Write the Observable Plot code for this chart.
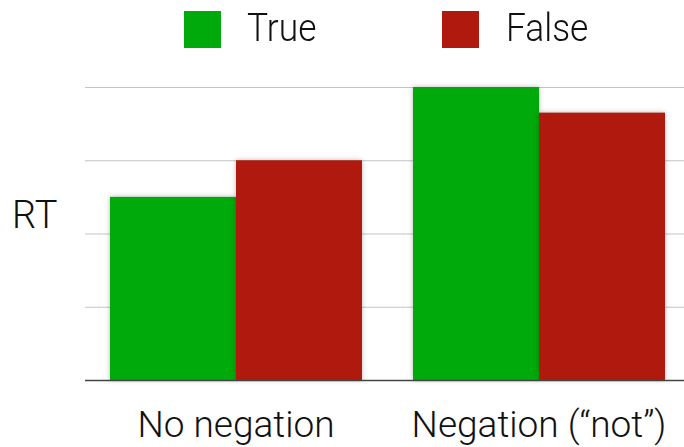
<!DOCTYPE html>
<html>
<head>
<meta charset="utf-8">
<script src="https://cdn.jsdelivr.net/npm/d3@7"></script>
<script src="https://cdn.jsdelivr.net/npm/@observablehq/plot@0.6"></script>
<style>
  html, body { margin: 0; padding: 0; background: #fff; }
  #wrap { position: relative; width: 684px; height: 447px; font-family: Roboto, "Liberation Sans", Arial, sans-serif; font-weight: 300; color: #111; overflow: hidden; }
  #wrap svg { position: absolute; left: 0; top: 0; }
  #legend { position: absolute; left: 0; top: 0; width: 684px; height: 60px; }
  .sw { position: absolute; top: 11px; width: 37px; height: 37px; }
  .lt { position: absolute; top: 6px; font-size: 38px; line-height: 44px; transform-origin: 0 0; transform: scaleX(0.93); white-space: nowrap; }
  #ylab { position: absolute; left: 12px; top: 193px; font-size: 38px; line-height: 44px; }
  svg g[aria-label="bar"] rect { filter: drop-shadow(0 0 2.5px rgba(0,0,0,0.28)); }
</style>
</head>
<body>
<div id="wrap">
  <div id="legend"></div>
  <div id="ylab"></div>
</div>
<script>
const categories = ["No negation", "Negation (\u201cnot\u201d)"];
const series = ["True", "False"];
const colors = ["#00aa0a", "#b01a0e"];
const trueValues = [2.5, 4.0];
const falseValues = [3.0, 3.65];
const gridValues = [1, 2, 3, 4];
const baseValue = [0];
const yLabel = "RT";

const data = [];
categories.forEach((c, i) => {
  data.push({cat: c, series: "True", value: trueValues[i]});
  data.push({cat: c, series: "False", value: falseValues[i]});
});

const frame = {
  width: 684,
  height: 447,
  marginLeft: 85,
  marginRight: 0,
  marginTop: 87,
  marginBottom: 67,
  style: {fontFamily: "Roboto, Liberation Sans, Arial, sans-serif", fontWeight: 300, color: "#111", background: "transparent"},
  y: {domain: [0, 4], axis: null}
};

// layer 1: horizontal gridlines spanning the full frame
const gridPlot = Plot.plot({
  ...frame,
  marks: [Plot.ruleY(gridValues, {stroke: "#c4c4c4", strokeWidth: 1.2})]
});

// layer 2: grouped bars with category labels
const barPlot = Plot.plot({
  ...frame,
  fx: {domain: categories, paddingInner: 0.165, paddingOuter: 0.069, align: 0.56, label: null},
  x: {domain: series, padding: 0, axis: null},
  color: {domain: series, range: colors},
  marks: [
    Plot.barY(data, {fx: "cat", x: "series", y: "value", fill: "series"}),
    Plot.axisFx({anchor: "bottom", tickSize: 0, tickPadding: 30, fontSize: 37, label: null})
  ]
});

// layer 3: baseline
const basePlot = Plot.plot({
  ...frame,
  marks: [Plot.ruleY(baseValue, {stroke: "#444", strokeWidth: 1.3})]
});

const wrap = document.getElementById("wrap");
wrap.prepend(gridPlot, barPlot, basePlot);

// legend
const legend = document.getElementById("legend");
const swLeft = [184, 442];
const textLeft = [247, 506];
series.forEach((s, i) => {
  const sw = document.createElement("div");
  sw.className = "sw";
  sw.style.left = swLeft[i] + "px";
  sw.style.background = colors[i];
  legend.appendChild(sw);
  const t = document.createElement("div");
  t.className = "lt";
  t.style.left = textLeft[i] + "px";
  t.textContent = s;
  legend.appendChild(t);
});
document.getElementById("ylab").textContent = yLabel;
</script>
</body>
</html>
